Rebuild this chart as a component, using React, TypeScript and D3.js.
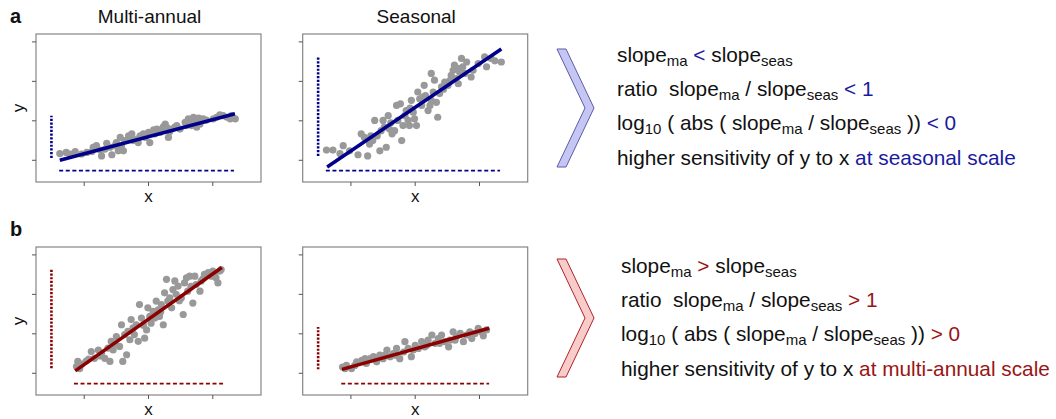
import React from "react";
import * as d3 from "d3";

const WIDTH = 1056;
const HEIGHT = 419;
const FONT = "'Liberation Sans', Arial, Helvetica, sans-serif";

const BOX_W = 225;
const BOX_H = 148;

const X_DOMAIN = [0.25, 3.75];
const Y_DOMAIN = [-0.55, 3.2];
const X_TICKS = [1, 2, 3];
const Y_TICKS = [0, 1, 2, 3];
const DASH_Y = -0.26;
const DOT_X = 0.49;

const BLUE = "#00008b";
const RED = "#8b0000";
const BLUE_TEXT = "#1a1aa0";
const RED_TEXT = "#9a1414";
const POINT = "#999999";

// scatter points, [x, y]
const maPointsA = [
  [0.62, 0.17], [0.72, 0.2], [0.86, 0.22], [0.96, 0.16], [1.12, 0.22], [1.19, 0.37],
  [1.25, 0.26], [1.27, 0.11], [1.35, 0.43], [1.4, 0.33], [1.43, 0.14], [1.5, 0.45],
  [1.56, 0.58], [1.58, 0.37], [1.61, 0.24], [1.69, 0.62], [1.74, 0.67], [1.76, 0.5],
  [1.82, 0.54], [1.87, 0.62], [1.95, 0.58], [2.0, 0.71], [2.02, 0.45], [2.08, 0.77],
  [2.13, 0.79], [2.18, 0.71], [2.23, 0.85], [2.26, 0.92], [2.31, 0.58], [2.33, 0.73],
  [2.41, 0.84], [2.49, 0.79], [2.57, 0.96], [2.62, 1.05], [2.67, 0.88], [2.7, 1.09],
  [2.75, 0.84], [2.78, 1.07], [2.83, 1.01], [2.9, 1.02], [3.01, 1.05], [3.11, 1.15],
  [3.22, 1.09], [3.29, 1.13], [3.35, 1.05], [0.78, 0.16], [1.04, 0.2], [1.14, 0.33],
  [1.32, 0.28], [1.48, 0.37], [1.53, 0.24], [1.63, 0.5], [1.71, 0.54], [1.84, 0.45],
  [1.92, 0.67], [2.1, 0.67], [2.21, 0.79], [2.28, 0.84], [2.36, 0.79], [2.44, 0.88],
  [2.59, 0.88], [2.65, 1.01], [2.72, 0.96], [2.8, 0.92], [2.85, 1.05], [3.06, 1.09],
  [3.16, 1.13], [3.27, 1.05],
];

const seasPointsA = [
  [0.62, 0.26], [0.72, 0.26], [0.83, 0.17], [0.88, 0.37], [0.98, 0.24], [1.11, 0.14],
  [1.16, 0.67], [1.21, 0.58], [1.26, 0.11], [1.29, 0.41], [1.34, 0.5], [1.37, 1.01],
  [1.41, 0.62], [1.45, 0.24], [1.47, 0.75], [1.5, 1.01], [1.55, 0.33], [1.58, 1.13],
  [1.6, 0.79], [1.64, 0.67], [1.68, 0.75], [1.71, 1.39], [1.73, 1.01], [1.77, 1.43],
  [1.79, 0.5], [1.81, 0.88], [1.84, 1.13], [1.86, 1.26], [1.89, 1.01], [1.91, 0.88],
  [1.94, 1.52], [1.97, 1.22], [1.99, 1.05], [2.02, 0.88], [2.04, 1.73], [2.07, 1.56],
  [2.1, 1.39], [2.14, 1.9], [2.16, 1.64], [2.2, 1.26], [2.23, 1.39], [2.25, 2.2],
  [2.25, 1.52], [2.28, 1.73], [2.3, 2.03], [2.33, 1.47], [2.35, 1.09], [2.38, 1.69],
  [2.41, 1.86], [2.46, 1.98], [2.51, 1.9], [2.56, 2.15], [2.59, 2.28], [2.61, 2.41],
  [2.64, 2.07], [2.67, 1.94], [2.69, 2.24], [2.72, 2.58], [2.74, 2.37], [2.77, 2.2],
  [2.8, 2.49], [2.87, 2.11], [2.9, 2.28], [2.98, 2.45], [3.08, 2.62], [3.11, 2.37],
  [3.18, 2.58], [3.24, 2.52], [3.34, 2.49], [1.31, 0.62], [1.52, 0.84], [1.62, 0.95],
  [1.92, 1.32], [2.12, 1.6], [2.44, 1.8], [2.54, 2.02], [2.66, 2.33],
];

const maPointsB = [
  [0.88, 0.17], [0.9, 0.3], [0.96, 0.23], [1.03, 0.31], [1.11, 0.55], [1.16, 0.38],
  [1.22, 0.59], [1.27, 0.51], [1.32, 0.38], [1.37, 0.64], [1.4, 0.3], [1.42, 0.81],
  [1.45, 0.59], [1.5, 0.93], [1.55, 0.68], [1.58, 1.23], [1.6, 0.3], [1.63, 0.98],
  [1.66, 0.47], [1.68, 1.06], [1.71, 0.85], [1.73, 1.36], [1.76, 1.15], [1.81, 1.23],
  [1.84, 0.81], [1.86, 1.74], [1.89, 1.4], [1.94, 0.89], [1.97, 1.1], [1.99, 1.66],
  [2.02, 1.44], [2.04, 1.27], [2.07, 1.57], [2.12, 1.83], [2.15, 1.61], [2.17, 1.44],
  [2.2, 1.74], [2.23, 1.23], [2.25, 2.04], [2.28, 2.38], [2.3, 1.83], [2.33, 1.91],
  [2.36, 1.66], [2.38, 2.12], [2.41, 2.34], [2.43, 2.0], [2.46, 2.21], [2.51, 1.91],
  [2.54, 1.49], [2.56, 2.29], [2.59, 2.42], [2.61, 2.08], [2.64, 2.46], [2.69, 1.78],
  [2.72, 2.46], [2.74, 2.25], [2.8, 2.08], [2.82, 2.34], [2.87, 2.51], [2.93, 2.55],
  [2.98, 2.46], [3.0, 2.59], [3.03, 2.51], [3.08, 2.29], [3.11, 2.59], [3.13, 2.63],
  [0.93, 0.12], [1.07, 0.36], [1.25, 0.44], [1.48, 0.74], [1.78, 0.98], [1.92, 1.22],
  [2.1, 1.4], [2.19, 1.56], [2.48, 1.84], [2.66, 2.2], [2.85, 2.4], [3.05, 2.42],
];

const seasPointsB = [
  [0.87, 0.16], [0.93, 0.2], [1.01, 0.12], [1.09, 0.29], [1.17, 0.33], [1.24, 0.25],
  [1.3, 0.37], [1.35, 0.42], [1.4, 0.29], [1.45, 0.46], [1.5, 0.37], [1.56, 0.59],
  [1.61, 0.42], [1.66, 0.5], [1.71, 0.63], [1.76, 0.37], [1.82, 0.54], [1.84, 0.8],
  [1.89, 0.63], [1.94, 0.42], [2.0, 0.71], [2.05, 0.63], [2.1, 0.8], [2.15, 0.67],
  [2.2, 0.84], [2.26, 0.97], [2.31, 0.76], [2.36, 0.88], [2.41, 0.97], [2.46, 0.8],
  [2.52, 0.67], [2.54, 0.84], [2.59, 1.05], [2.64, 0.93], [2.7, 1.01], [2.75, 0.8],
  [2.8, 0.97], [2.85, 1.05], [2.93, 1.01], [2.98, 1.14], [3.06, 0.95], [3.11, 1.1],
  [0.91, 0.12], [1.06, 0.2], [1.22, 0.37], [1.53, 0.46], [1.69, 0.46], [1.97, 0.59],
  [2.18, 0.71], [2.38, 0.76], [2.62, 0.84], [2.88, 0.88], [3.03, 1.05],
];

// fitted lines, [[x0, y0], [x1, y1]]
const fitMaA = [[0.62, 0.0], [3.345, 1.18]];
const fitSeasA = [[0.63, -0.17], [3.34, 2.82]];
const fitMaB = [[0.86, 0.06], [3.14, 2.68]];
const fitSeasB = [[0.86, 0.1], [3.15, 1.14]];

// ranges shown by the dashed (x) and dotted (y) guides
const xSpanMaA = [0.61, 3.33];
const xSpanSeasA = [0.61, 3.32];
const xSpanMaB = [0.84, 3.16];
const xSpanSeasB = [0.85, 3.15];
const ySpanMaA = [0.06, 1.13];
const ySpanSeasA = [0.11, 2.61];
const ySpanMaB = [0.13, 2.63];
const ySpanSeasB = [0.1, 1.17];

type Seg = { t: string; sub?: boolean; c?: string };

const rowsA: Seg[][] = [
  [{ t: "slope" }, { t: "ma", sub: true }, { t: " < ", c: BLUE_TEXT }, { t: "slope" }, { t: "seas", sub: true }],
  [{ t: "ratio  slope" }, { t: "ma", sub: true }, { t: " / slope" }, { t: "seas", sub: true }, { t: " < 1", c: BLUE_TEXT }],
  [{ t: "log" }, { t: "10", sub: true }, { t: " ( abs ( slope" }, { t: "ma", sub: true }, { t: " / slope" }, { t: "seas", sub: true }, { t: " )) " }, { t: "< 0", c: BLUE_TEXT }],
  [{ t: "higher sensitivity of y to x " }, { t: "at seasonal scale", c: BLUE_TEXT }],
];

const rowsB: Seg[][] = [
  [{ t: "slope" }, { t: "ma", sub: true }, { t: " > ", c: RED_TEXT }, { t: "slope" }, { t: "seas", sub: true }],
  [{ t: "ratio  slope" }, { t: "ma", sub: true }, { t: " / slope" }, { t: "seas", sub: true }, { t: " > 1", c: RED_TEXT }],
  [{ t: "log" }, { t: "10", sub: true }, { t: " ( abs ( slope" }, { t: "ma", sub: true }, { t: " / slope" }, { t: "seas", sub: true }, { t: " )) " }, { t: "> 0", c: RED_TEXT }],
  [{ t: "higher sensitivity of y to x " }, { t: "at multi-annual scale", c: RED_TEXT }],
];

const TEXT_SIZE = 20.8;
const SUB_SIZE = 15;
const SUB_DY = 4;

const x = d3.scaleLinear().domain(X_DOMAIN).range([0, BOX_W]);
const y = d3.scaleLinear().domain(Y_DOMAIN).range([BOX_H, 0]);
const line = d3
  .line<number[]>()
  .x((d) => x(d[0]))
  .y((d) => y(d[1]));

const Panel = ({ left, top, points, fit, xSpan, ySpan, color, title, showY }: any) => (
  <g transform={`translate(${left},${top})`}>
    {title && (
      <text x={BOX_W / 2 + 1} y={-11} textAnchor="middle" fontSize={19} fill="#111">
        {title}
      </text>
    )}
    <rect width={BOX_W} height={BOX_H} fill="none" stroke="#858585" strokeWidth={1.2} />
    {X_TICKS.map((t) => (
      <line key={t} x1={x(t)} x2={x(t)} y1={BOX_H} y2={BOX_H + 4} stroke="#555" />
    ))}
    {Y_TICKS.map((t) => (
      <line key={t} x1={-4} x2={0} y1={y(t)} y2={y(t)} stroke="#555" />
    ))}
    {points.map((d: number[], i: number) => (
      <circle key={i} cx={x(d[0])} cy={y(d[1])} r={3.6} fill={POINT} />
    ))}
    <path d={line(fit) || ""} fill="none" stroke={color} strokeWidth={3.5} />
    <line
      x1={x(xSpan[0])}
      x2={x(xSpan[1])}
      y1={y(DASH_Y)}
      y2={y(DASH_Y)}
      stroke={color}
      strokeWidth={1.8}
      strokeDasharray="4,2.6"
    />
    <line
      x1={x(DOT_X)}
      x2={x(DOT_X)}
      y1={y(ySpan[0])}
      y2={y(ySpan[1])}
      stroke={color}
      strokeWidth={2.6}
      strokeDasharray="2.2,1.5"
    />
    <text x={x(2)} y={BOX_H + 20} textAnchor="middle" fontSize={17} fill="#111">
      x
    </text>
    {showY && (
      <text
        transform={`translate(-12,${BOX_H / 2}) rotate(-90)`}
        textAnchor="middle"
        fontSize={17}
        fill="#111"
      >
        y
      </text>
    )}
  </g>
);

const RichLine = ({ xPos, yPos, segs }: { xPos: number; yPos: number; segs: Seg[] }) => {
  let cur = 0;
  return (
    <text
      x={xPos}
      y={yPos}
      fontSize={TEXT_SIZE}
      fill="#111"
      xmlSpace="preserve"
      style={{ whiteSpace: "pre" }}
    >
      {segs.map((s, i) => {
        const target = s.sub ? SUB_DY : 0;
        const dy = target - cur;
        cur = target;
        return (
          <tspan key={i} dy={dy} fontSize={s.sub ? SUB_SIZE : TEXT_SIZE} fill={s.c || "#111"}>
            {s.t}
          </tspan>
        );
      })}
    </text>
  );
};

const chevron = (x0: number, y0: number) =>
  [
    [x0, y0],
    [x0 + 9, y0],
    [x0 + 37, y0 + 59],
    [x0 + 9, y0 + 118],
    [x0, y0 + 118],
    [x0 + 28, y0 + 59],
  ]
    .map((p) => p.join(","))
    .join(" ");

const App = () => {
  return (
    <svg
      width={WIDTH}
      height={HEIGHT}
      style={{ position: "absolute", left: 0, top: 0, fontFamily: FONT, background: "#fff" }}
    >
      <text x={10} y={23} fontSize={20} fontWeight="bold" fill="#111">a</text>
      <text x={10} y={236} fontSize={20} fontWeight="bold" fill="#111">b</text>

      <Panel left={36} top={34} points={maPointsA} fit={fitMaA} xSpan={xSpanMaA} ySpan={ySpanMaA} color={BLUE} title="Multi-annual" showY />
      <Panel left={302.7} top={34} points={seasPointsA} fit={fitSeasA} xSpan={xSpanSeasA} ySpan={ySpanSeasA} color={BLUE} title="Seasonal" />
      <Panel left={36} top={247} points={maPointsB} fit={fitMaB} xSpan={xSpanMaB} ySpan={ySpanMaB} color={RED} showY />
      <Panel left={302.7} top={247} points={seasPointsB} fit={fitSeasB} xSpan={xSpanSeasB} ySpan={ySpanSeasB} color={RED} />

      <polygon points={chevron(557, 49)} fill="#c6c6f4" stroke="#5c5ca8" strokeWidth={1} />
      <polygon points={chevron(557, 259)} fill="#f9cccc" stroke="#b22222" strokeWidth={1} />

      {rowsA.map((r, i) => (
        <RichLine key={i} xPos={617} yPos={[62, 96, 130, 165][i]} segs={r} />
      ))}
      {rowsB.map((r, i) => (
        <RichLine key={i} xPos={621} yPos={[273, 307, 341, 376][i]} segs={r} />
      ))}
    </svg>
  );
};

export default App;
